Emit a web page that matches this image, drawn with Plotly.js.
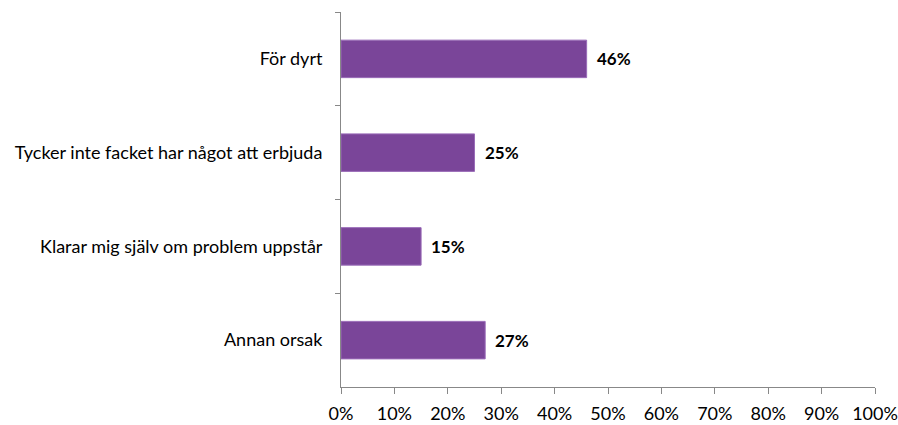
<!DOCTYPE html>
<html><head><meta charset="utf-8">
<script src="https://cdn.plot.ly/plotly-3.0.1.min.js"></script>
<style>html,body{margin:0;padding:0;background:#fff}#chart{width:898px;height:425px}</style>
</head><body><div id="chart"></div>
<script>
var categories = ["För dyrt", "Tycker inte facket har något att erbjuda", "Klarar mig själv om problem uppstår", "Annan orsak"];
var values = [0.46, 0.25, 0.15, 0.27];
var xTickVals = [0, 0.1, 0.2, 0.3, 0.4, 0.5, 0.6, 0.7, 0.8, 0.9, 1.0];
var xTickText = ["0%", "10%", "20%", "30%", "40%", "50%", "60%", "70%", "80%", "90%", "100%"];
var labels = values.map(function(v){ return Math.round(v*100) + "%"; });

var trace = {
  type: "bar", orientation: "h",
  x: values, y: categories,
  marker: {color: "#7a4599", line: {color: "#9a6cb8", width: 1}},
  hoverinfo: "none"
};
var annotations = values.map(function(v, i){
  return {x: v, y: categories[i], xref: "x", yref: "y", text: labels[i],
    showarrow: false, xanchor: "left", yanchor: "middle", xshift: 8,
    font: {family: "Lato, sans-serif", size: 17, color: "#000", weight: "bold"}};
});
var layout = {
  width: 898, height: 425,
  margin: {l: 341, r: 23, t: 12, b: 38},
  paper_bgcolor: "#fff", plot_bgcolor: "#fff",
  showlegend: false, bargap: 0.6,
  font: {family: "Lato, sans-serif", size: 18, color: "#000"},
  annotations: annotations,
  xaxis: {range: [0, 1], tickvals: xTickVals, ticktext: xTickText,
    showgrid: false, zeroline: false, showline: true, linecolor: "#888", linewidth: 1,
    ticks: "outside", ticklen: 6, tickcolor: "#888", ticklabelstandoff: 4,
    tickfont: {size: 18}},
  yaxis: {autorange: "reversed", showgrid: false, zeroline: false,
    showline: true, linecolor: "#888", linewidth: 1,
    ticks: "outside", ticklen: 5, tickcolor: "#888", tickson: "boundaries",
    ticklabelstandoff: 14, tickfont: {size: 18}}
};
Plotly.newPlot("chart", [trace], layout, {displayModeBar: false, staticPlot: true});
</script></body></html>
